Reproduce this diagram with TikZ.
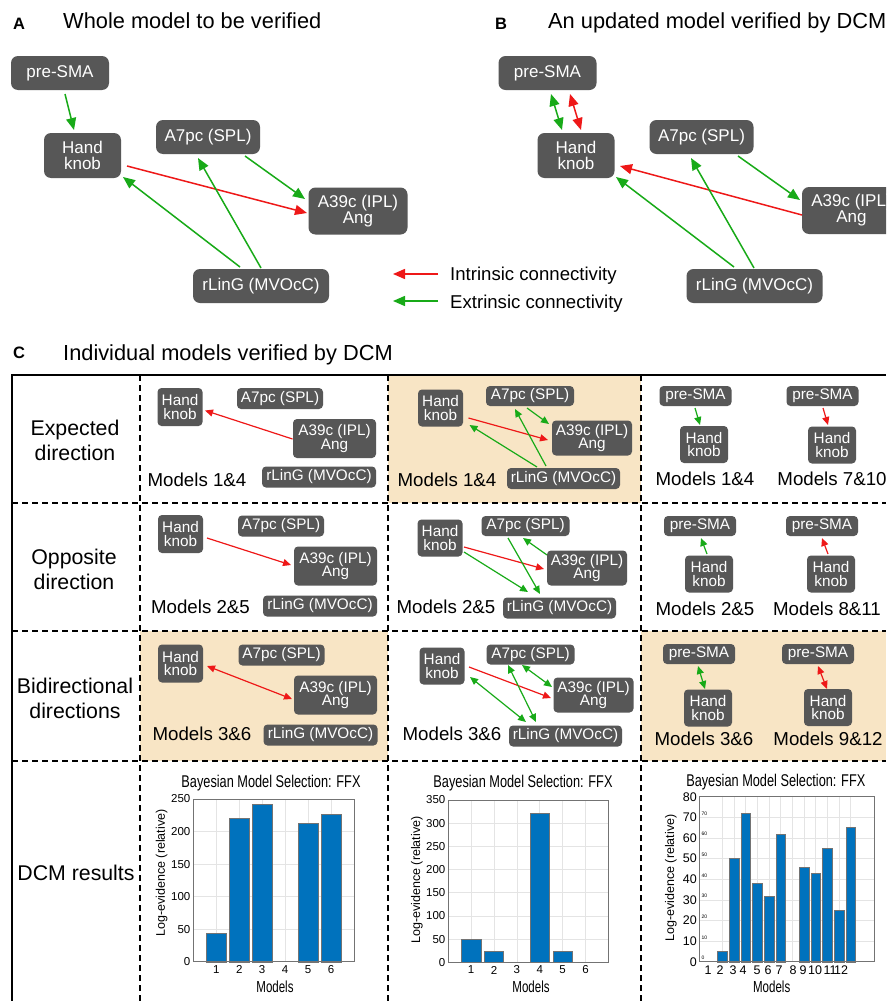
\documentclass[tikz,border=0pt]{standalone}
\usepackage{fontspec}
\usepackage{graphicx}
\setmainfont{Liberation Sans}
\usetikzlibrary{arrows.meta}

\definecolor{roigray}{RGB}{87,87,87}
\definecolor{intred}{RGB}{238,24,24}
\definecolor{extgreen}{RGB}{24,170,24}
\definecolor{cellbeige}{RGB}{248,229,197}
\definecolor{barblue}{RGB}{0,114,189}
\definecolor{gridgray}{RGB}{228,228,228}

\tikzset{
  bigtip/.tip={Triangle[length=12pt,width=10pt]},
  smalltip/.tip={Triangle[length=8pt,width=7pt]},
  bigroi/.style 2 args={fill=roigray, text=white, rounded corners=7pt, inner sep=0pt,
    minimum width=#1pt, minimum height=#2pt, align=center,
    font=\fontsize{17}{16}\selectfont},
  smallroi/.style 2 args={fill=roigray, text=white, rounded corners=4pt, inner sep=0pt,
    minimum width=#1pt, minimum height=#2pt, align=center,
    font=\fontsize{15.3}{13.8}\selectfont},
  intrinsic/.style={draw=intred, line width=1.5pt},
  extrinsic/.style={draw=extgreen, line width=1.5pt},
  intr/.style={draw=intred, line width=1.2pt},
  extr/.style={draw=extgreen, line width=1.2pt},
  paneltag/.style={inner sep=0pt, font=\fontsize{16.5}{17}\bfseries\selectfont},
  paneltitle/.style={inner sep=0pt, font=\fontsize{21.8}{24}\selectfont},
  legendtext/.style={inner sep=0pt, font=\fontsize{18.6}{20}\selectfont},
  rowlabel/.style={inner sep=0pt, align=center, font=\fontsize{21.3}{25.5}\selectfont},
  modellabel/.style={inner sep=0pt, font=\fontsize{18.7}{20}\selectfont},
  tabledash/.style={line width=1.3pt, dash pattern=on 6pt off 4pt},
  charttitle/.style={inner sep=0pt, font=\fontsize{17}{18}\selectfont},
  axislabel/.style={inner sep=0pt, font=\fontsize{16}{17}\selectfont},
  ylab/.style={inner sep=0pt, rotate=90, font=\fontsize{12.5}{13}\selectfont},
  ticklab/.style={inner sep=0pt, font=\fontsize{11.5}{12}\selectfont},
  bigticklab/.style={inner sep=0pt, font=\fontsize{12.5}{13}\selectfont},
  tinylab/.style={inner sep=0pt, font=\fontsize{5}{5}\selectfont},
  gridline/.style={draw=gridgray, line width=0.6pt},
  axisbox/.style={draw=black!55, line width=0.6pt},
  bar/.style={fill=barblue, draw=black!55, line width=0.4pt}
}

\begin{document}
\begin{tikzpicture}[x=1pt, y=-1pt]
\useasboundingbox (0,0) rectangle (886,1001);
\clip (0,0) rectangle (886,1001);
\fill[white] (0,0) rectangle (886,1001);

% Titles
\node[paneltag, anchor=base west] (tagA) at (13,29.3) {A};
\node[paneltitle, anchor=base west] (titleA) at (63,28.3) {Whole model to be verified};
\node[paneltag, anchor=base west] (tagB) at (495,29.3) {B};
\node[paneltitle, anchor=base west] (titleB) at (548,28.3) {An updated model verified by DCM};
\node[paneltag, anchor=base west] (tagC) at (13,358.3) {C};
\node[paneltitle, anchor=base west] (titleC) at (63,360.7) {Individual models verified by DCM};

% Panel A
\node[bigroi={98}{34}] (smaA) at (60,73) {pre-SMA};
\node[bigroi={77}{45}] (hkA) at (82.5,155.5) {Hand\\knob};
\node[bigroi={104}{34}] (splA) at (208,137) {A7pc (SPL)};
\node[bigroi={99}{47}] (iplA) at (358,211) {A39c (IPL)\\Ang};
\node[bigroi={136}{34}] (lingA) at (261,286) {rLinG (MVOcC)};
\draw[extrinsic, -bigtip] ([shift={(5,21)}]smaA.center) -- ([shift={(-8.5,-25.5)}]hkA.center);
\draw[extrinsic, -bigtip] ([shift={(37,19)}]splA.center) -- ([shift={(-53,-12)}]iplA.center);
\draw[intrinsic, -bigtip] ([shift={(44.5,10.5)}]hkA.center) -- ([shift={(-51,2)}]iplA.center);
\draw[extrinsic, -bigtip] ([shift={(-21,-19)}]lingA.center) -- ([shift={(40.5,21.5)}]hkA.center);
\draw[extrinsic, -bigtip] ([shift={(0,-18)}]lingA.center) -- ([shift={(-10,21)}]splA.center);

% Legend
\node[legendtext, anchor=base west] (legint) at (450,280) {Intrinsic connectivity};
\node[legendtext, anchor=base west] (legext) at (450,308) {Extrinsic connectivity};
\draw[intrinsic, -bigtip] ([shift={(-12,-6)}]legint.base west) -- ([shift={(-57,-6)}]legint.base west);
\draw[extrinsic, -bigtip] ([shift={(-12,-7)}]legext.base west) -- ([shift={(-57,-7)}]legext.base west);

% Panel B
\node[bigroi={98}{34}] (smaB) at (547.5,73) {pre-SMA};
\node[bigroi={77}{45}] (hkB) at (576,155.5) {Hand\\knob};
\node[bigroi={104}{34}] (splB) at (701.5,137) {A7pc (SPL)};
\node[bigroi={99}{47}] (iplB) at (851.5,210.5) {A39c (IPL)\\Ang};
\node[bigroi={136}{34}] (lingB) at (754.5,286) {rLinG (MVOcC)};
\draw[extrinsic, bigtip-bigtip] ([shift={(3.5,21)}]smaB.center) -- ([shift={(-14,-25.5)}]hkB.center);
\draw[intrinsic, bigtip-bigtip] ([shift={(22.5,21)}]smaB.center) -- ([shift={(5,-25.5)}]hkB.center);
\draw[intrinsic, -bigtip] ([shift={(-49.5,4.5)}]iplB.center) -- ([shift={(44,10.5)}]hkB.center);
\draw[extrinsic, -bigtip] ([shift={(36.5,19)}]splB.center) -- ([shift={(-51.5,-10.5)}]iplB.center);
\draw[extrinsic, -bigtip] ([shift={(-20.5,-19)}]lingB.center) -- ([shift={(40,21.5)}]hkB.center);
\draw[extrinsic, -bigtip] ([shift={(-0.5,-18)}]lingB.center) -- ([shift={(-10.5,21)}]splB.center);

% Table C: shaded cells and rules
\fill[cellbeige] (388,375) rectangle (641,503);
\fill[cellbeige] (140,631) rectangle (388,761);
\fill[cellbeige] (641,631) rectangle (886,761);
\foreach \x in {140,388,641}
  \draw[tabledash] (\x,375) -- (\x,1001);
\foreach \y in {503,631,761}
  \draw[tabledash] (12,\y) -- (886,\y);
\draw[line width=1.5pt] (12,1001) -- (12,375) -- (886,375);

% Row labels
\node[rowlabel] (rowexp) at (75,440.5) {Expected\\direction};
\node[rowlabel] (rowopp) at (74,569.5) {Opposite\\direction};
\node[rowlabel] (rowbi) at (75,698.5) {Bidirectional\\directions};
\node[rowlabel] (rowdcm) at (76,873) {DCM results};

% Column 1
\node[smallroi={45}{38}] (hk11) at (180,407) {Hand\\knob};
\node[smallroi={86}{21}] (spl11) at (280,398.5) {A7pc (SPL)};
\node[smallroi={83}{39}] (ipl11) at (334.5,438.5) {A39c (IPL)\\Ang};
\node[smallroi={114}{21}] (ling11) at (319,477) {rLinG (MVOcC)};
\node[modellabel] (mod11) at (197,480) {Models 1\&4};
\draw[intr, -smalltip] ([shift={(-42,0.5)}]ipl11.center) -- ([shift={(25,3.5)}]hk11.center);

\node[smallroi={45}{38}] (hk21) at (180.5,534) {Hand\\knob};
\node[smallroi={86}{21}] (spl21) at (281,526) {A7pc (SPL)};
\node[smallroi={83}{39}] (ipl21) at (335.5,566) {A39c (IPL)\\Ang};
\node[smallroi={114}{21}] (ling21) at (320,606) {rLinG (MVOcC)};
\node[modellabel] (mod21) at (200.5,607) {Models 2\&5};
\draw[intr, -smalltip] ([shift={(26.5,4)}]hk21.center) -- ([shift={(-44.5,-1)}]ipl21.center);

\node[smallroi={45}{38}] (hk31) at (180.5,663.5) {Hand\\knob};
\node[smallroi={86}{21}] (spl31) at (281.5,655) {A7pc (SPL)};
\node[smallroi={83}{39}] (ipl31) at (335.5,695) {A39c (IPL)\\Ang};
\node[smallroi={114}{21}] (ling31) at (320.5,735) {rLinG (MVOcC)};
\node[modellabel] (mod31) at (202,734) {Models 3\&6};
\draw[intr, smalltip-smalltip] ([shift={(26.5,2.5)}]hk31.center) -- ([shift={(-43.5,4)}]ipl31.center);

% Column 2
\node[smallroi={45}{37}] (hk12) at (440.5,408) {Hand\\knob};
\node[smallroi={88}{20}] (spl12) at (530,396) {A7pc (SPL)};
\node[smallroi={80}{35}] (ipl12) at (592,438) {A39c (IPL)\\Ang};
\node[smallroi={113}{21}] (ling12) at (563.5,478.5) {rLinG (MVOcC)};
\node[modellabel] (mod12) at (447,480) {Models 1\&4};
\draw[intr, -smalltip] ([shift={(28,10)}]hk12.center) -- ([shift={(-44,2)}]ipl12.center);
\draw[extr, -smalltip] ([shift={(-26.5,-11.5)}]ling12.center) -- ([shift={(29,17)}]hk12.center);
\draw[extr, -smalltip] ([shift={(-17.5,-12.5)}]ling12.center) -- ([shift={(-15,13)}]spl12.center);
\draw[extr, -smalltip] ([shift={(-3,12)}]spl12.center) -- ([shift={(-43,-14)}]ipl12.center);

\node[smallroi={45}{37}] (hk22) at (440,538) {Hand\\knob};
\node[smallroi={88}{20}] (spl22) at (525.5,526) {A7pc (SPL)};
\node[smallroi={80}{35}] (ipl22) at (587,568) {A39c (IPL)\\Ang};
\node[smallroi={113}{21}] (ling22) at (559.5,608) {rLinG (MVOcC)};
\node[modellabel] (mod22) at (446,607) {Models 2\&5};
\draw[intr, -smalltip] ([shift={(24,9)}]hk22.center) -- ([shift={(-43,1)}]ipl22.center);
\draw[extr, -smalltip] ([shift={(24,14)}]hk22.center) -- ([shift={(-31.5,-16)}]ling22.center);
\draw[extr, -smalltip] ([shift={(-17.5,12)}]spl22.center) -- ([shift={(-19.5,-14)}]ling22.center);
\draw[extr, -smalltip] ([shift={(-40,-13)}]ipl22.center) -- ([shift={(-2.5,12)}]spl22.center);

\node[smallroi={45}{37}] (hk32) at (442,666) {Hand\\knob};
\node[smallroi={88}{20}] (spl32) at (530.5,654.5) {A7pc (SPL)};
\node[smallroi={80}{35}] (ipl32) at (593.5,695) {A39c (IPL)\\Ang};
\node[smallroi={113}{21}] (ling32) at (565.5,736) {rLinG (MVOcC)};
\node[modellabel] (mod32) at (452,734) {Models 3\&6};
\draw[intr, -smalltip] ([shift={(27,1)}]hk32.center) -- ([shift={(-42.5,3)}]ipl32.center);
\draw[extr, smalltip-smalltip] ([shift={(28,11)}]hk32.center) -- ([shift={(-39.5,-14)}]ling32.center);
\draw[extr, smalltip-smalltip] ([shift={(-22.5,10.5)}]spl32.center) -- ([shift={(-29.5,-14)}]ling32.center);
\draw[extr, smalltip-smalltip] ([shift={(-8.5,10.5)}]spl32.center) -- ([shift={(-41.5,-8)}]ipl32.center);

% Column 3
\node[smallroi={72}{20}] (sma13a) at (695.5,396) {pre-SMA};
\node[smallroi={48}{37}] (hk13a) at (704,444.5) {Hand\\knob};
\node[modellabel] (mod13a) at (705,479) {Models 1\&4};
\node[smallroi={72}{20}] (sma13b) at (822.5,396) {pre-SMA};
\node[smallroi={48}{37}] (hk13b) at (832,445) {Hand\\knob};
\node[modellabel] (mod13b) at (832,479) {Models 7\&10};
\draw[extr, -smalltip] ([shift={(-0.5,12)}]sma13a.center) -- ([shift={(-4,-19.5)}]hk13a.center);
\draw[intr, -smalltip] ([shift={(0.5,12)}]sma13b.center) -- ([shift={(-4,-20)}]hk13b.center);

\node[smallroi={72}{20}] (sma23a) at (700,526) {pre-SMA};
\node[smallroi={48}{37}] (hk23a) at (709,574) {Hand\\knob};
\node[modellabel] (mod23a) at (705,609) {Models 2\&5};
\node[smallroi={72}{20}] (sma23b) at (822,526) {pre-SMA};
\node[smallroi={48}{37}] (hk23b) at (831,574) {Hand\\knob};
\node[modellabel] (mod23b) at (827,609) {Models 8\&11};
\draw[extr, -smalltip] ([shift={(-2,-20)}]hk23a.center) -- ([shift={(1,12)}]sma23a.center);
\draw[intr, -smalltip] ([shift={(-3,-20)}]hk23b.center) -- ([shift={(0,12)}]sma23b.center);

\node[smallroi={72}{20}] (sma33a) at (699,654) {pre-SMA};
\node[smallroi={48}{37}] (hk33a) at (708,708) {Hand\\knob};
\node[modellabel] (mod33a) at (704,739) {Models 3\&6};
\node[smallroi={72}{20}] (sma33b) at (818,654) {pre-SMA};
\node[smallroi={48}{37}] (hk33b) at (828,707.5) {Hand\\knob};
\node[modellabel] (mod33b) at (828,739) {Models 9\&12};
\draw[extr, smalltip-smalltip] ([shift={(-1,12)}]sma33a.center) -- ([shift={(-3,-19)}]hk33a.center);
\draw[intr, smalltip-smalltip] ([shift={(0,12)}]sma33b.center) -- ([shift={(-1,-18.5)}]hk33b.center);

% Chart 1
\foreach \t in {0,50,...,250}{
  \draw[gridline] (193.3,{961.7-0.6508*\t}) -- (354,{961.7-0.6508*\t});
  \node[ticklab, anchor=east] (ya\t) at (190.5,{961.7-0.6508*\t}) {\t};
}
\foreach \i in {1,...,6}{
  \draw[gridline] ({193.3+22.96*\i},799) -- ({193.3+22.96*\i},961.7);
  \node[ticklab] (xa\i) at ({193.3+22.96*\i},969.5) {\i};
}
\foreach \i/\v in {1/44,2/221,3/242,5/213,6/227}
  \filldraw[bar] ({193.3+22.96*(\i-0.42)},961.7) rectangle ({193.3+22.96*(\i+0.42)},{961.7-0.6508*\v});
\draw[axisbox] (193.3,799) rectangle (354,961.7);
\node[charttitle, anchor=base] (tita) at (271,787.3) {\scalebox{0.75}[1]{Bayesian Model Selection: FFX}};
\node[axislabel] (mda) at (275,986.5) {\scalebox{0.72}[1]{Models}};
\node[ylab] (yla) at (161.7,873) {Log-evidence (relative)};

% Chart 2
\foreach \t in {0,50,...,350}{
  \draw[gridline] (448.3,{962.3-0.4637*\t}) -- (608.3,{962.3-0.4637*\t});
  \node[ticklab, anchor=east] (yb\t) at (445.5,{962.3-0.4637*\t}) {\t};
}
\foreach \i in {1,...,6}{
  \draw[gridline] ({448.3+22.86*\i},800) -- ({448.3+22.86*\i},962.3);
  \node[ticklab] (xb\i) at ({448.3+22.86*\i},970) {\i};
}
\foreach \i/\v in {1/50,2/25,4/322,5/25}
  \filldraw[bar] ({448.3+22.86*(\i-0.42)},962.3) rectangle ({448.3+22.86*(\i+0.42)},{962.3-0.4637*\v});
\draw[axisbox] (448.3,800) rectangle (608.3,962.3);
\node[charttitle, anchor=base] (titb) at (523,787.3) {\scalebox{0.75}[1]{Bayesian Model Selection: FFX}};
\node[axislabel] (mdb) at (531,986.5) {\scalebox{0.72}[1]{Models}};
\node[ylab] (ylb) at (417,880) {Log-evidence (relative)};

% Chart 3
\foreach \t in {0,10,...,80}{
  \draw[gridline] (699,{961.7-2.0625*\t}) -- (874,{961.7-2.0625*\t});
  \node[bigticklab, anchor=east] (yc\t) at (697,{961.7-2.0625*\t}) {\t};
}
\foreach \t in {0,10,...,70}
  \node[tinylab, anchor=west] (yd\t) at (701.5,{958-2.0625*\t}) {\t};
\foreach \i in {1,...,12}
  \draw[gridline] ({699+11.67*(\i+1)},796.7) -- ({699+11.67*(\i+1)},961.7);
\foreach \i/\v in {1/5,2/50,3/72,4/38,5/32,6/62,8/46,9/43,10/55,11/25,12/65}
  \filldraw[bar] ({699+11.67*(\i+1)-4.8},961.7) rectangle ({699+11.67*(\i+1)+4.8},{961.7-2.0625*\v});
\draw[axisbox] (699,796.7) rectangle (874,961.7);
\foreach \n/\x in {1/708,2/720,3/733,4/743,5/757,6/768,7/779,8/793,9/803,10/815,11/830,12/841}
  \node[bigticklab] (xc\n) at (\x,970.5) {\n};
\node[charttitle, anchor=base] (titc) at (775.8,786.7) {\scalebox{0.75}[1]{Bayesian Model Selection: FFX}};
\node[axislabel] (mdc) at (771.7,986.5) {\scalebox{0.72}[1]{Models}};
\node[ylab] (ylc) at (671,878) {Log-evidence (relative)};
\end{tikzpicture}
\end{document}
